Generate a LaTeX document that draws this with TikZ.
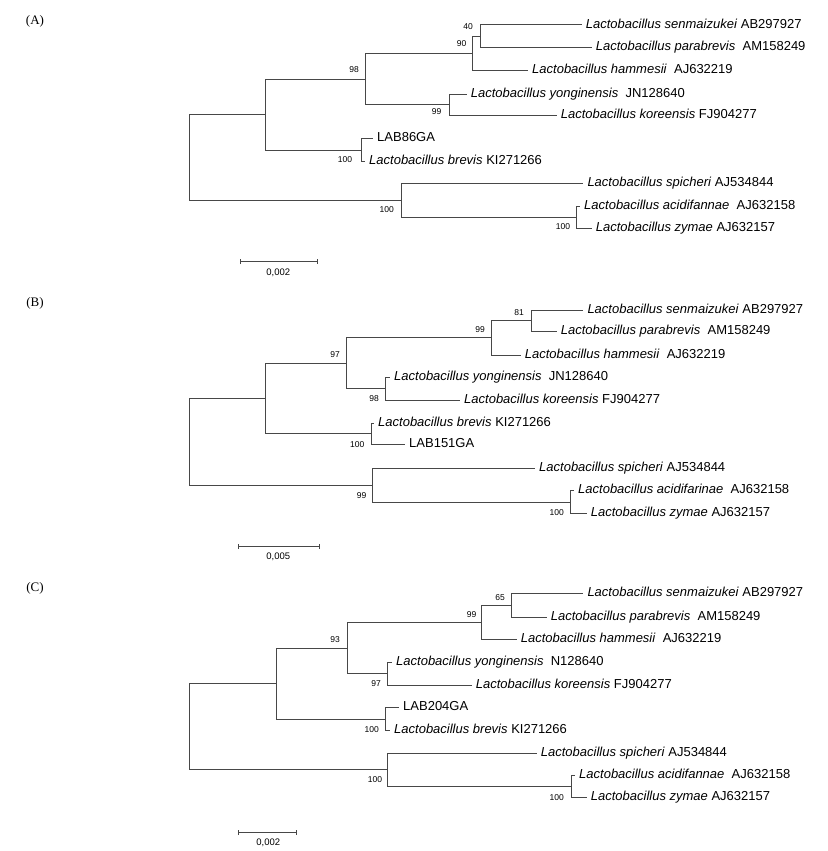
\documentclass[tikz,border=0pt]{standalone}
\usepackage{fontspec}
\setmainfont{Liberation Sans}
\newfontfamily\panelfont{Liberation Serif}
\usetikzlibrary{arrows.meta}
\newcommand{\lacto}[1]{\textit{Lactobacillus #1}}

\begin{document}
\begin{tikzpicture}[x=1pt, y=1pt,
    branch/.style={draw=black!72, line width=1pt},
    leaf/.style={anchor=west, inner xsep=4pt, inner ysep=0pt, text height=9pt, text depth=2.5pt,
                 font=\fontsize{13}{15}\selectfont},
    boot/.style={inner sep=0pt, font=\fontsize{8.5}{10}\selectfont},
    scalelabel/.style={inner sep=0pt, font=\fontsize{9.5}{11}\selectfont},
    panel/.style={inner sep=0pt, font=\panelfont\fontsize{13}{15}\selectfont},
    scalebar/.style={draw=black!72, line width=1pt, {Bar[width=5pt]}-{Bar[width=5pt]}}]
    \useasboundingbox (0,0) rectangle (827,-851);

    % (A)
    \node[panel] (labA) at (35,-21) {(A)};
    \coordinate (A0)  at (189,-157.5);
    \coordinate (A1)  at (265.7,-114.7);
    \coordinate (A98) at (365.7,-79.2);
    \coordinate (A90) at (472.3,-53.5);
    \coordinate (A40) at (480,-36.35);
    \coordinate (A99) at (449.3,-104.85);
    \coordinate (AL)  at (361.7,-150.2);
    \coordinate (AS)  at (401,-200.3);
    \coordinate (AZ)  at (576.7,-217.35);
    \node[leaf] (Asen) at (581.7,-25)    {\lacto{senmaizukei} AB297927};
    \node[leaf] (Apar) at (591.7,-47.7)  {\lacto{parabrevis}\ \ AM158249};
    \node[leaf] (Aham) at (528,-70.7)    {\lacto{hammesii}\ \ AJ632219};
    \node[leaf] (Ayon) at (466.7,-94)    {\lacto{yonginensis}\ \ JN128640};
    \node[leaf] (Akor) at (556.7,-115.7) {\lacto{koreensis} FJ904277};
    \node[leaf] (Alab) at (373,-138.7)   {LAB86GA};
    \node[leaf] (Abre) at (365,-161.7)   {\lacto{brevis} KI271266};
    \node[leaf] (Aspi) at (583.3,-183.3) {\lacto{spicheri} AJ534844};
    \node[leaf] (Aaci) at (580,-206)     {\lacto{acidifannae}\ \ AJ632158};
    \node[leaf] (Azym) at (591.7,-228.7) {\lacto{zymae} AJ632157};
    \draw[branch] (A0) |- (A1) (A0) |- (AS)
      (A1) |- (A98) (A1) |- (AL)
      (A98) |- (A90) (A98) |- (A99)
      (A90) |- (A40) (A90) |- (Aham.west)
      (A40) |- (Asen.west) (A40) |- (Apar.west)
      (A99) |- (Ayon.west) (A99) |- (Akor.west)
      (AL) |- (Alab.west) (AL) |- (Abre.west)
      (AS) |- (Aspi.west) (AS) |- (AZ)
      (AZ) |- (Aaci.west) (AZ) |- (Azym.west);
    \node[boot] (bA40)  at (468,-27)    {40};
    \node[boot] (bA90)  at (461.7,-44)  {90};
    \node[boot] (bA98)  at (354,-70)    {98};
    \node[boot] (bA99)  at (436.7,-112) {99};
    \node[boot] (bAL)   at (345,-160)   {100};
    \node[boot] (bAS)   at (386.7,-210) {100};
    \node[boot] (bAZ)   at (563,-226.7) {100};
    \coordinate (sA1) at (240,-261.7);
    \coordinate (sA2) at (318.3,-261.7);
    \draw[scalebar] (sA1) -- (sA2);
    \node[scalelabel] (sAl) at (278.3,-272.7) {0,002};

    % (B)
    \node[panel] (labB) at (35,-303.3) {(B)};
    \coordinate (B0)   at (189,-441.9);
    \coordinate (B1)   at (265.7,-398.6);
    \coordinate (B97)  at (346.7,-363.4);
    \coordinate (B99)  at (491.7,-337.9);
    \coordinate (B81)  at (531,-320.85);
    \coordinate (B98)  at (385,-388.85);
    \coordinate (BL)   at (371,-433.8);
    \coordinate (BS)   at (372.3,-485.15);
    \coordinate (BZ)   at (570.7,-502);
    \node[leaf] (Bsen) at (583.3,-310)   {\lacto{senmaizukei} AB297927};
    \node[leaf] (Bpar) at (556.7,-331.7) {\lacto{parabrevis}\ \ AM158249};
    \node[leaf] (Bham) at (520.7,-355)   {\lacto{hammesii}\ \ AJ632219};
    \node[leaf] (Byon) at (390,-377.7)   {\lacto{yonginensis}\ \ JN128640};
    \node[leaf] (Bkor) at (460,-400)     {\lacto{koreensis} FJ904277};
    \node[leaf] (Bbre) at (374,-423.3)   {\lacto{brevis} KI271266};
    \node[leaf] (Blab) at (405,-444.3)   {LAB151GA};
    \node[leaf] (Bspi) at (535,-468.3)   {\lacto{spicheri} AJ534844};
    \node[leaf] (Baci) at (574,-490.7)   {\lacto{acidifarinae}\ \ AJ632158};
    \node[leaf] (Bzym) at (586.7,-513.3) {\lacto{zymae} AJ632157};
    \draw[branch] (B0) |- (B1) (B0) |- (BS)
      (B1) |- (B97) (B1) |- (BL)
      (B97) |- (B99) (B97) |- (B98)
      (B99) |- (B81) (B99) |- (Bham.west)
      (B81) |- (Bsen.west) (B81) |- (Bpar.west)
      (B98) |- (Byon.west) (B98) |- (Bkor.west)
      (BL) |- (Bbre.west) (BL) |- (Blab.west)
      (BS) |- (Bspi.west) (BS) |- (BZ)
      (BZ) |- (Baci.west) (BZ) |- (Bzym.west);
    \node[boot] (bB81)  at (519,-312.3)   {81};
    \node[boot] (bB99)  at (480,-330)     {99};
    \node[boot] (bB97)  at (335,-355)     {97};
    \node[boot] (bB98)  at (374,-398.3)   {98};
    \node[boot] (bBL)   at (357.3,-444.3) {100};
    \node[boot] (bBS)   at (361.7,-495.7) {99};
    \node[boot] (bBZ)   at (556.7,-512.3) {100};
    \coordinate (sB1) at (238.3,-546.7);
    \coordinate (sB2) at (320,-546.7);
    \draw[scalebar] (sB1) -- (sB2);
    \node[scalelabel] (sBl) at (278.3,-556.7) {0,005};

    % (C)
    \node[panel] (labC) at (35,-588.3) {(C)};
    \coordinate (C0)   at (189,-726.7);
    \coordinate (C1)   at (276,-683.55);
    \coordinate (C93)  at (347.3,-648.1);
    \coordinate (C99)  at (481.7,-622.3);
    \coordinate (C65)  at (511,-605.3);
    \coordinate (C97)  at (387.7,-673.85);
    \coordinate (CL)   at (385.7,-719);
    \coordinate (CS)   at (387.3,-769.8);
    \coordinate (CZ)   at (571,-786.35);
    \node[leaf] (Csen) at (583.3,-593.3) {\lacto{senmaizukei} AB297927};
    \node[leaf] (Cpar) at (546.7,-617.3) {\lacto{parabrevis}\ \ AM158249};
    \node[leaf] (Cham) at (516.7,-639.3) {\lacto{hammesii}\ \ AJ632219};
    \node[leaf] (Cyon) at (392,-662.7)   {\lacto{yonginensis}\ \ N128640};
    \node[leaf] (Ckor) at (471.7,-685)   {\lacto{koreensis} FJ904277};
    \node[leaf] (Clab) at (399,-707.3)   {LAB204GA};
    \node[leaf] (Cbre) at (390,-730.7)   {\lacto{brevis} KI271266};
    \node[leaf] (Cspi) at (536.7,-753.3) {\lacto{spicheri} AJ534844};
    \node[leaf] (Caci) at (575,-775)     {\lacto{acidifannae}\ \ AJ632158};
    \node[leaf] (Czym) at (586.7,-797.7) {\lacto{zymae} AJ632157};
    \draw[branch] (C0) |- (C1) (C0) |- (CS)
      (C1) |- (C93) (C1) |- (CL)
      (C93) |- (C99) (C93) |- (C97)
      (C99) |- (C65) (C99) |- (Cham.west)
      (C65) |- (Csen.west) (C65) |- (Cpar.west)
      (C97) |- (Cyon.west) (C97) |- (Ckor.west)
      (CL) |- (Clab.west) (CL) |- (Cbre.west)
      (CS) |- (Cspi.west) (CS) |- (CZ)
      (CZ) |- (Caci.west) (CZ) |- (Czym.west);
    \node[boot] (bC65)  at (500,-597.3)   {65};
    \node[boot] (bC99)  at (471.7,-615)   {99};
    \node[boot] (bC93)  at (335,-639.3)   {93};
    \node[boot] (bC97)  at (376,-684)     {97};
    \node[boot] (bCL)   at (371.7,-730)   {100};
    \node[boot] (bCS)   at (375,-780)     {100};
    \node[boot] (bCZ)   at (556.7,-797.3) {100};
    \coordinate (sC1) at (238.3,-832.7);
    \coordinate (sC2) at (296.7,-832.7);
    \draw[scalebar] (sC1) -- (sC2);
    \node[scalelabel] (sCl) at (268.3,-842.7) {0,002};
\end{tikzpicture}
\end{document}
